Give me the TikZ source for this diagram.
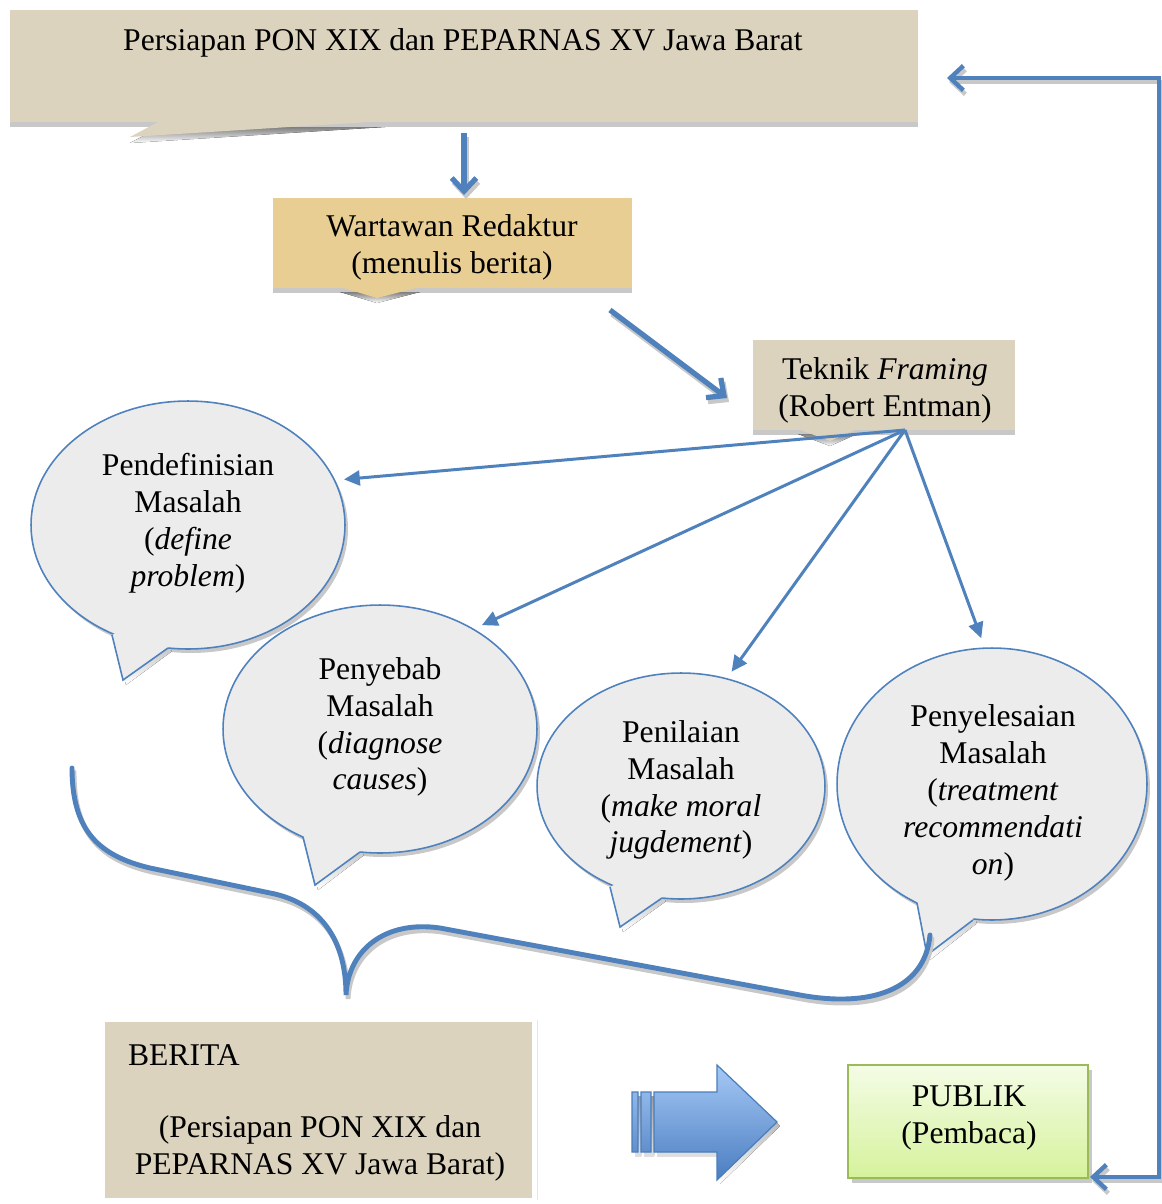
\documentclass[tikz,border=0pt]{standalone}
\usepackage{fontspec}
\setmainfont{Liberation Serif}
\usetikzlibrary{arrows.meta,shapes.geometric,calc}
\definecolor{ablue}{HTML}{4F81BD}
\definecolor{linen}{HTML}{DCD3BE}
\definecolor{papyrus}{HTML}{E8CE93}
\definecolor{speck}{HTML}{ECECEC}
\definecolor{shade}{HTML}{C8C8C8}
\definecolor{pubborder}{HTML}{9BBB59}
\definecolor{pubtop}{HTML}{F4FCE6}
\definecolor{pubbot}{HTML}{D6F29C}
\definecolor{arrtop}{HTML}{A6C9F6}
\definecolor{arrbot}{HTML}{4A7DC0}
\definecolor{arredge}{HTML}{4A7EBB}
\begin{document}
\begin{tikzpicture}[x=0.02cm,y=-0.02cm,
  txt/.style={font=\fontsize{18}{21}\selectfont, align=center, inner sep=0pt, outer sep=0pt},
  box/.style={rectangle, inner sep=0pt, outer sep=0pt},
  bub/.style={ellipse, inner sep=0pt, outer sep=0pt, draw=ablue, line width=0.9pt, fill=speck},
  bubsh/.style={ellipse, inner sep=0pt, outer sep=0pt, fill=shade},
  tailline/.style={draw=ablue, line width=0.9pt, line join=miter},
  fan/.style={draw=ablue, line width=1.7pt, -{Triangle[length=9pt,width=8.5pt]}},
  bigarr/.style={draw=ablue, line width=3pt, -{Straight Barb[length=7.5pt,width=14pt]}},
  bigarrsh/.style={draw=shade, line width=3pt, -{Straight Barb[length=7.5pt,width=14pt]}},
  fbline/.style={line width=2.5pt, line join=miter, {Straight Barb[length=7.5pt,width=14pt]}-{Straight Barb[length=7.5pt,width=14pt]}},
  bracestyle/.style={draw=ablue, line width=2.8pt, line cap=round},
  bracesh/.style={draw=shade, line width=2.8pt, line cap=round},
]
\useasboundingbox (0,0) rectangle (1162,1204);

% ---------- top box ----------
\node[box, fill=shade, minimum width=18.16cm, minimum height=2.24cm] (topsh) at (464,71) {};
\fill[shade] (385,127) -- (130,143) -- (160,127) -- cycle;
\node[box, fill=linen, minimum width=18.16cm, minimum height=2.24cm] (topbox) at (464,66) {};
\fill[linen] (385,121) -- (130,137) -- (160,121) -- cycle;

% ---------- Wartawan box ----------
\node[box, fill=shade, minimum width=7.18cm, minimum height=1.8cm] (wartsh) at (452.5,248) {};
\fill[shade] (340,292) -- (377,303) -- (420,292) -- cycle;
\node[box, fill=papyrus, minimum width=7.18cm, minimum height=1.8cm] (wart) at (452.5,243) {};
\fill[papyrus] (340,287) -- (377,298) -- (420,287) -- cycle;

% ---------- Teknik box ----------
\node[box, fill=shade, minimum width=5.24cm, minimum height=1.8cm] (teksh) at (884,390) {};
\fill[shade] (798,434) -- (830,446) -- (857,434) -- cycle;
\node[box, fill=linen, minimum width=5.24cm, minimum height=1.8cm] (tek) at (884,385) {};
\fill[linen] (798,429) -- (830,441) -- (857,429) -- cycle;

% ---------- BERITA box ----------
\node[box, fill=linen, minimum width=8.54cm, minimum height=3.52cm] (berita) at (318.5,1110) {};
\draw[draw=black!10, line width=0.5pt] (537,1020) -- (537,1200);

% ---------- bubbles ----------
% B1
\node[bubsh, minimum width=6.28cm, minimum height=4.96cm] (b1sh) at (191,529) {};
\fill[shade] (115,639) -- (126,685) -- (171,652) -- (191,600) -- cycle;
\node[bub, minimum width=6.28cm, minimum height=4.96cm] (b1) at (188,525) {};
\fill[speck] (112,635) -- (123,680) -- (168,648) -- (188,600) -- cycle;
\draw[tailline] (112,635) -- (123,680) -- (168,648);
% B2
\node[bubsh, minimum width=6.28cm, minimum height=4.96cm] (b2sh) at (383,733) {};
\fill[shade] (306,841) -- (318,890) -- (363,856) -- (383,800) -- cycle;
\node[bub, minimum width=6.28cm, minimum height=4.96cm] (b2) at (380,729) {};
\fill[speck] (303,837) -- (315,885) -- (360,852) -- (380,800) -- cycle;
\draw[tailline] (303,837) -- (315,885) -- (360,852);
% B3
\node[bubsh, minimum width=5.76cm, minimum height=4.52cm] (b3sh) at (684,790) {};
\fill[shade] (613,891) -- (623,932) -- (665,902) -- (684,850) -- cycle;
\node[bub, minimum width=5.76cm, minimum height=4.52cm] (b3) at (681,786) {};
\fill[speck] (610,887) -- (620,927) -- (662,898) -- (681,850) -- cycle;
\draw[tailline] (610,887) -- (620,927) -- (662,898);
% B4
\node[bubsh, minimum width=6.2cm, minimum height=5.44cm] (b4sh) at (995,788) {};
\fill[shade] (920,907) -- (930,960) -- (976,924) -- (995,850) -- cycle;
\node[bub, minimum width=6.2cm, minimum height=5.44cm] (b4) at (992,784) {};
\fill[speck] (917,903) -- (927,955) -- (973,920) -- (992,850) -- cycle;
\draw[tailline] (917,903) -- (927,955) -- (973,920);

% ---------- brace ----------
\begin{scope}[transform canvas={shift={(2,4)}}]
\draw[bracesh] (72,768) .. controls (72,832) and (100,856) .. (150,868) -- (275,894) .. controls (325,906) and (346,945) .. (346,995) .. controls (348,950) and (385,920) .. (440,928) -- (800,995) .. controls (870,1008) and (925,990) .. (930,935);
\end{scope}
\draw[bracestyle] (72,768) .. controls (72,832) and (100,856) .. (150,868) -- (275,894) .. controls (325,906) and (346,945) .. (346,995) .. controls (348,950) and (385,920) .. (440,928) -- (800,995) .. controls (870,1008) and (925,990) .. (930,935);

% ---------- coordinates ----------
\coordinate (hub) at ($(tek.south)+(21,0)$);
\coordinate (downA) at ($(topbox.south)+(0,11)$);
\coordinate (downB) at ($(wart.north -| topbox.south)+(0,-3)$);
\coordinate (diagA) at ($(wart.south east)+(-22,22)$);
\coordinate (diagB) at ($(tek.west)+(-26,13)$);

% ---------- fan arrows ----------
\draw[fan, shorten >=5.5pt] (hub) -- (b1.17);
\draw[fan, shorten >=5.5pt] (hub) -- (b2.47);
\draw[fan, shorten >=5pt] (hub) -- (b3.67);
\draw[fan, shorten >=6pt] (hub) -- (b4.93);

% ---------- thick arrows with shadows ----------
\begin{scope}[transform canvas={shift={(2,4)}}]
\draw[bigarrsh] (downA) -- (downB);
\draw[bigarrsh] (diagA) -- (diagB);
\end{scope}
\draw[bigarr] (downA) -- (downB);
\draw[bigarr] (diagA) -- (diagB);

% ---------- block arrow ----------
\fill[shade] (635,1096) rectangle (641,1156) (644,1096) rectangle (654,1156)
  (657,1096) -- (720,1096) -- (720,1069) -- (780,1126) -- (720,1184) -- (720,1156) -- (657,1156) -- cycle;
\path[top color=arrtop, bottom color=arrbot, draw=arredge, line width=0.7pt, line join=miter]
  (632,1092) rectangle (638,1152) (641,1092) rectangle (651,1152)
  (654,1092) -- (717,1092) -- (717,1065) -- (777,1122) -- (717,1180) -- (717,1152) -- (654,1152) -- cycle;

% ---------- PUBLIK ----------
\node[box, fill=shade, minimum width=4.8cm, minimum height=2.26cm] (pubsh) at (972,1126) {};
\node[box, top color=pubtop, bottom color=pubbot, draw=pubborder, line width=1pt, minimum width=4.8cm, minimum height=2.26cm] (pub) at (968,1121.5) {};

% feedback connector
\coordinate (fbtop) at (947,78);
\coordinate (fbcorner) at (1159,78);
\coordinate (fbbot) at ($(pub.south east)+(2,-1)$);
\begin{scope}[transform canvas={shift={(2,4)}}]
\draw[fbline, draw=shade] (fbtop) -- (fbcorner) -- (fbcorner |- fbbot) -- (fbbot);
\end{scope}
\draw[fbline, draw=ablue] (fbtop) -- (fbcorner) -- (fbcorner |- fbbot) -- (fbbot);

% ---------- texts ----------
\node[txt] (topt) at (463,43) {Persiapan PON XIX dan PEPARNAS XV Jawa Barat};
\node[txt] (wartt) at (452,247) {Wartawan Redaktur\\(menulis berita)};
\node[txt] (tekt) at (885,390) {Teknik \textit{Framing}\\(Robert Entman)};
\node[txt] (b1t) at (188,523) {Pendefinisian\\Masalah\\(\textit{define}\\\textit{problem})};
\node[txt] (b2t) at (380,727) {Penyebab\\Masalah\\(\textit{diagnose}\\\textit{causes})};
\node[txt] (b3t) at (681,790) {Penilaian\\Masalah\\(\textit{make moral}\\\textit{jugdement})};
\node[txt] (b4t) at (993,793) {Penyelesaian\\Masalah\\(\textit{treatment}\\\textit{recommendati}\\\textit{on})};
\node[txt, anchor=west] (bert1) at (128,1055) {BERITA};
\node[txt] (bert2) at (320,1148) {(Persiapan PON XIX dan\\PEPARNAS XV Jawa Barat)};
\node[txt] (pubt) at (969,1118) {PUBLIK\\(Pembaca)};
\end{tikzpicture}
\end{document}
